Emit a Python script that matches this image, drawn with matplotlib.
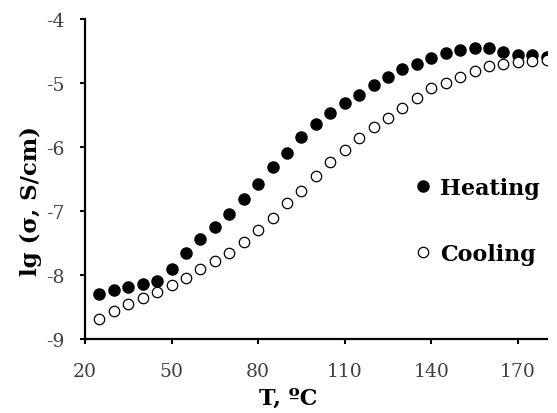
import numpy as np
import matplotlib
matplotlib.use("Agg")
import matplotlib.pyplot as plt

# temperatures, degC
temp = [25, 30, 35, 40, 45, 50, 55, 60, 65, 70, 75, 80, 85, 90, 95, 100,
        105, 110, 115, 120, 125, 130, 135, 140, 145, 150, 155, 160, 165,
        170, 175, 180]

# lg(sigma), heating run
heating = [-8.29, -8.23, -8.18, -8.14, -8.09, -7.90, -7.65, -7.44, -7.25,
           -7.04, -6.81, -6.58, -6.32, -6.10, -5.84, -5.64, -5.47, -5.32,
           -5.19, -5.03, -4.90, -4.78, -4.70, -4.61, -4.53, -4.48, -4.45,
           -4.45, -4.51, -4.56, -4.57, -4.60]

# lg(sigma), cooling run
cooling = [-8.68, -8.57, -8.46, -8.36, -8.27, -8.16, -8.04, -7.91, -7.78,
           -7.65, -7.49, -7.30, -7.11, -6.88, -6.69, -6.45, -6.24, -6.04,
           -5.86, -5.69, -5.55, -5.39, -5.24, -5.08, -5.00, -4.90, -4.82,
           -4.74, -4.70, -4.67, -4.65, -4.64]

xticks = [20, 50, 80, 110, 140, 170]
yticks = [-9, -8, -7, -6, -5, -4]

plt.rcParams['font.family'] = ['DejaVu Serif']
plt.rcParams['axes.unicode_minus'] = False

fig = plt.figure(figsize=(5.57, 4.14), dpi=100)
ax = fig.add_axes([0.1526, 0.1787, 0.829, 0.773])

ax.plot(temp, heating, 'o', ls='none', ms=8, mfc='k', mec='k', label='Heating')
ax.plot(temp, cooling, 'o', ls='none', ms=7.5, mfc='white', mec='k', mew=0.9,
        label='Cooling')

ax.set_xlim(20, 180)
ax.set_ylim(-9, -4)
ax.set_xticks(xticks)
ax.set_yticks(yticks)
ax.set_xticklabels([str(v) for v in xticks])
ax.set_yticklabels([str(v) for v in yticks])
ax.tick_params(direction='out', length=3.5, width=1.5, labelsize=13.5,
               color='black', labelcolor='#404040')
ax.tick_params(axis='x', pad=13)
ax.tick_params(axis='y', pad=11)

for s in ['top', 'right']:
    ax.spines[s].set_visible(False)
for s in ['left', 'bottom']:
    ax.spines[s].set_linewidth(1.6)

ax.set_xlabel('T, ºC', fontsize=16, fontweight='bold')
ax.set_ylabel('lg (σ, S/cm)', fontsize=16.5, fontweight='bold')
ax.xaxis.set_label_coords(0.4407, -0.15)
ax.yaxis.set_label_coords(-0.094, 0.434)

leg = ax.legend(loc='center left', bbox_to_anchor=(0.7176, 0.369),
                frameon=False, borderpad=0, borderaxespad=0,
                handletextpad=0.47, handlelength=0.6, labelspacing=1.95,
                prop={'size': 16, 'weight': 'bold'})

fig.savefig('out.png', dpi=100)
